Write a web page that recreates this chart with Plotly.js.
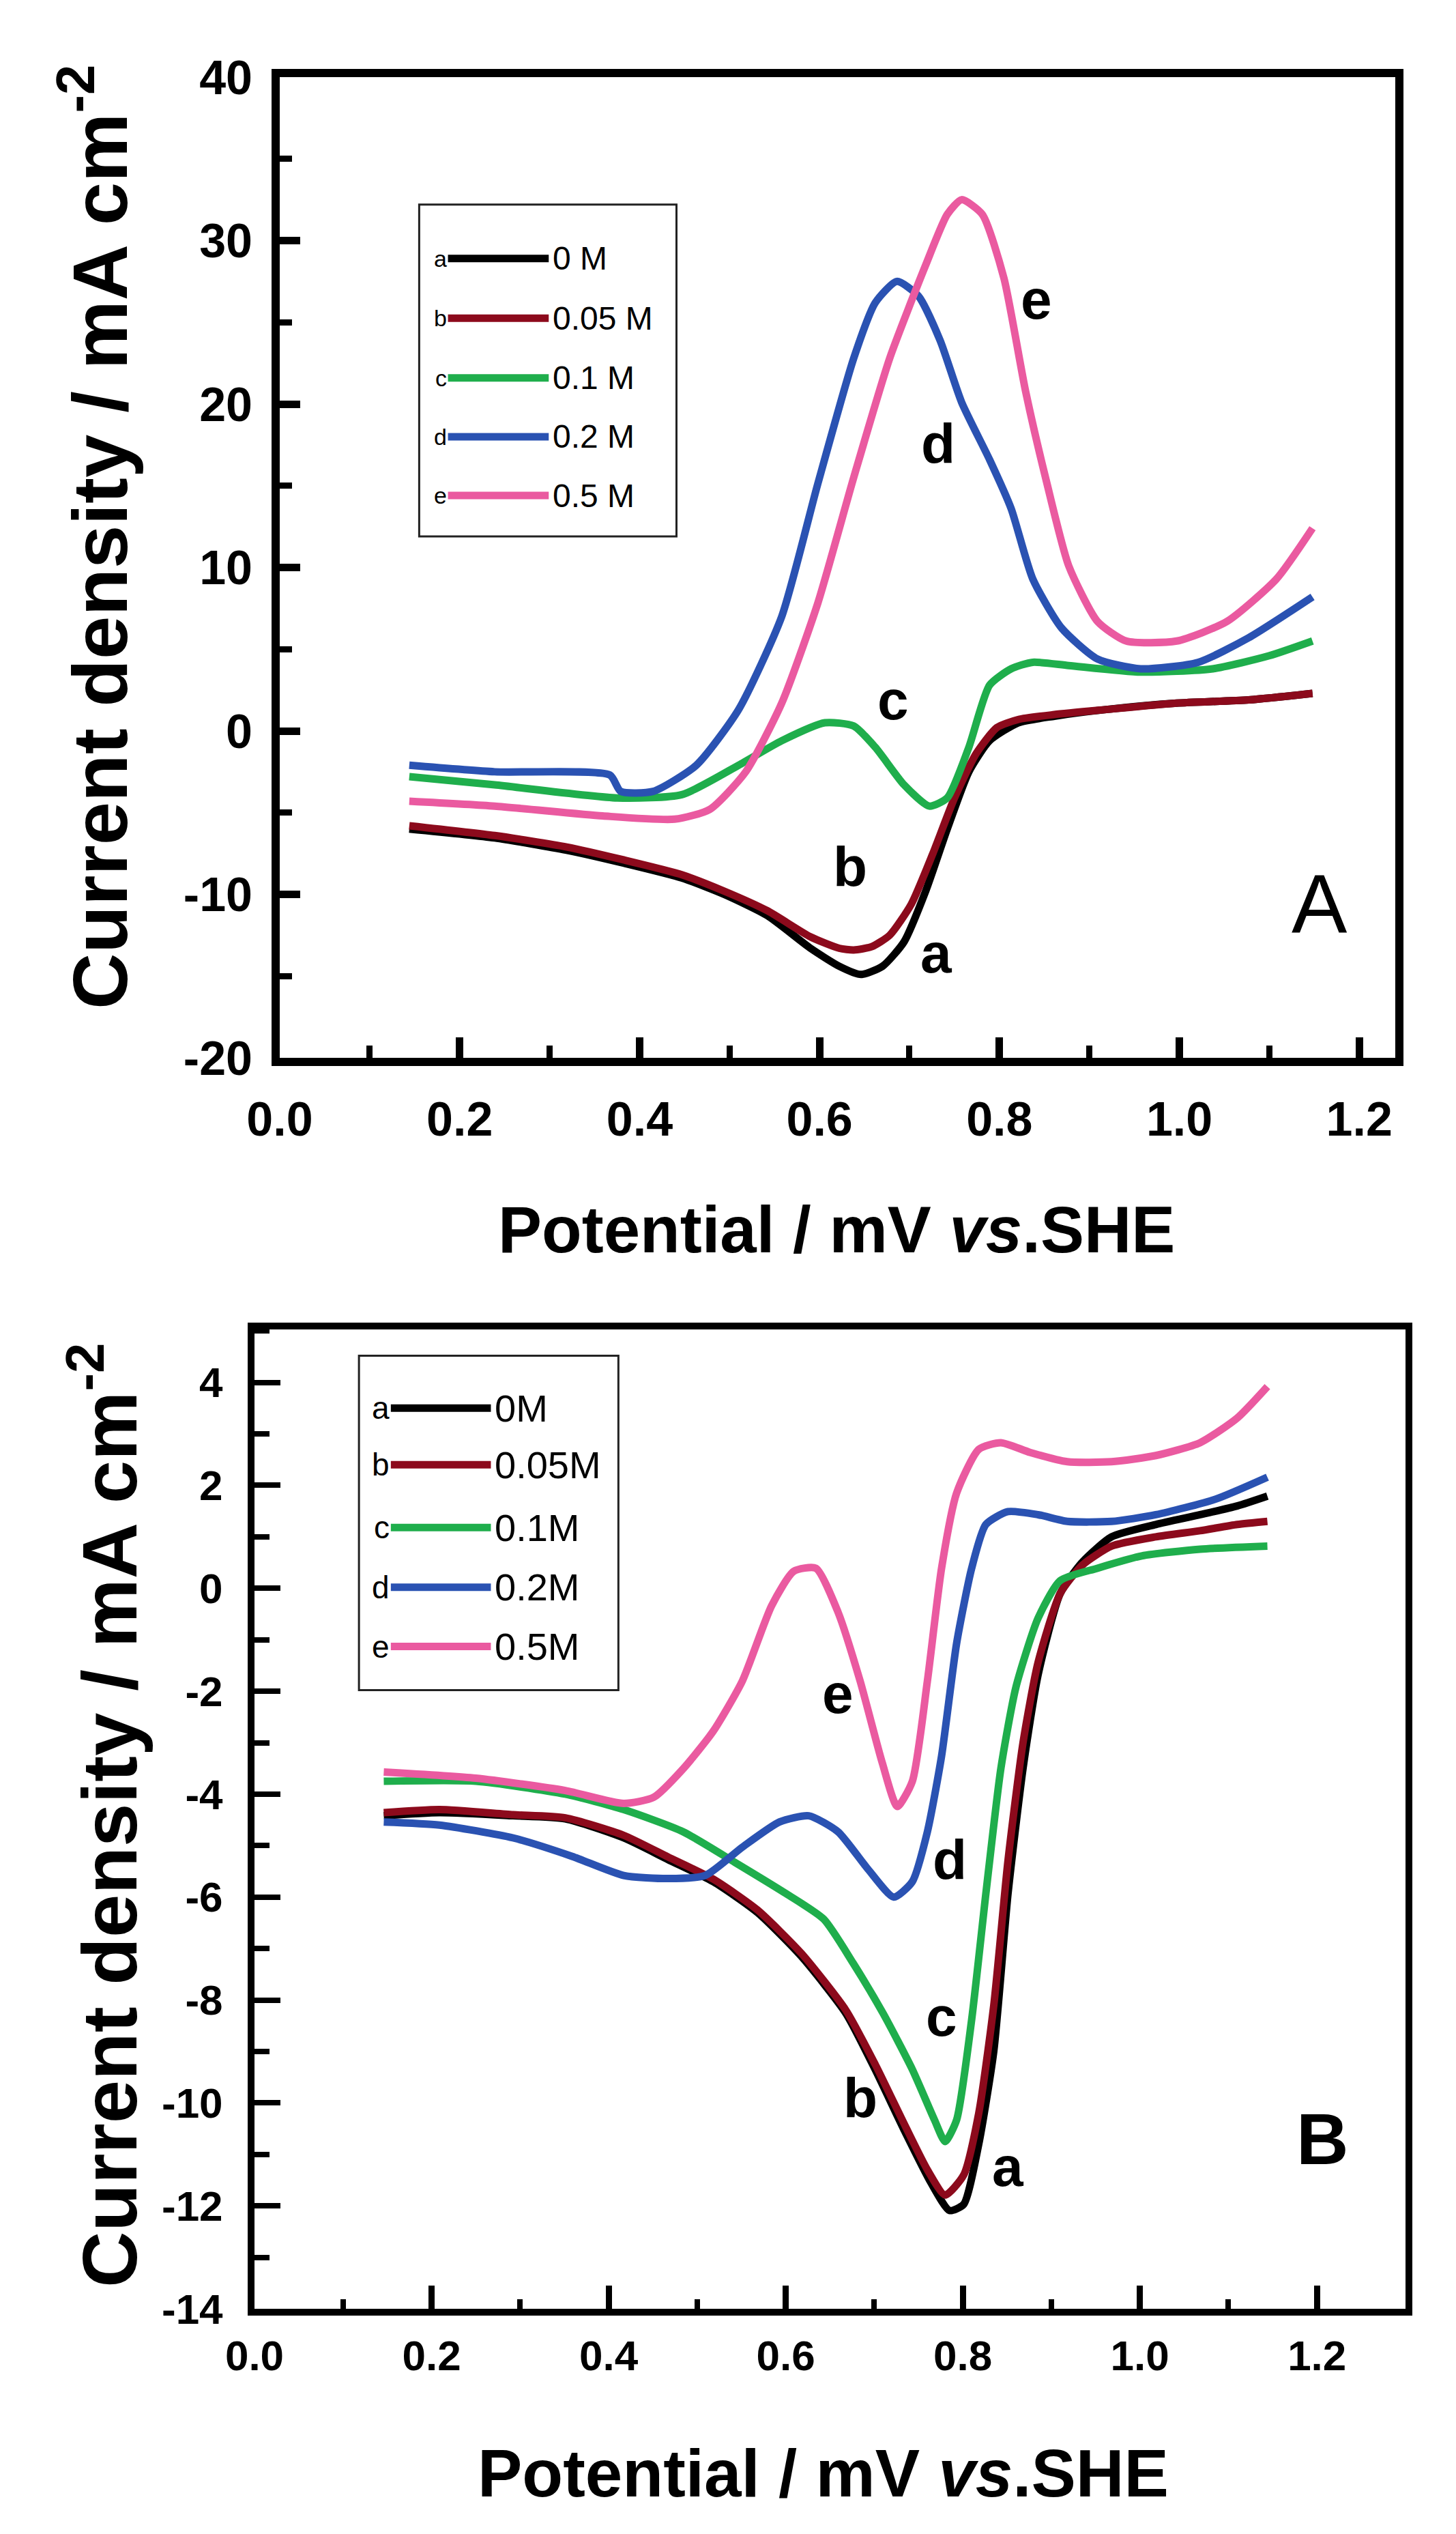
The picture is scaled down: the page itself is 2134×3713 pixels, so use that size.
<!DOCTYPE html>
<html>
<head>
<meta charset="utf-8">
<script src="https://cdn.plot.ly/plotly-3.0.1.min.js"></script>
<style>
  html, body { margin: 0; padding: 0; background: #ffffff; }
  #plot { width: 2134px; height: 3713px; }
</style>
</head>
<body>
<div id="plot"></div>
<script>
// curve letters and legend labels
const curveKeys = ['a', 'b', 'c', 'd', 'e'];
const legendTextA = ['0 M', '0.05 M', '0.1 M', '0.2 M', '0.5 M'];
const legendTextB = ['0M', '0.05M', '0.1M', '0.2M', '0.5M'];
const curveColors = ['#000000', '#8c0a1c', '#1fae4c', '#2a52b2', '#ea5aa0'];

// tick values / labels (hyphen minus, as printed)
const xTicks = [0, 0.2, 0.4, 0.6, 0.8, 1.0, 1.2];
const xTickText = ['0.0', '0.2', '0.4', '0.6', '0.8', '1.0', '1.2'];
const yTicksA = [-20, -10, 0, 10, 20, 30, 40];
const yTickTextA = ['-20', '-10', '0', '10', '20', '30', '40'];
const yTicksB = [-14, -12, -10, -8, -6, -4, -2, 0, 2, 4];
const yTickTextB = ['-14', '-12', '-10', '-8', '-6', '-4', '-2', '0', '2', '4'];

// Panel A
const A_a_x = [0.144, 0.239, 0.319, 0.383, 0.447, 0.494, 0.542, 0.59, 0.622, 0.646, 0.67, 0.694, 0.718, 0.742, 0.766, 0.789, 0.821, 0.861, 0.917, 0.997, 1.077, 1.148];
const A_a_y = [-6.0, -6.55, -7.3, -8.1, -9.0, -10.0, -11.3, -13.3, -14.4, -14.9, -14.4, -12.9, -9.8, -6.0, -2.5, -0.6, 0.5, 0.9, 1.3, 1.7, 1.9, 2.3];
const A_b_x = [0.144, 0.239, 0.319, 0.383, 0.447, 0.494, 0.542, 0.59, 0.622, 0.638, 0.658, 0.678, 0.702, 0.726, 0.75, 0.774, 0.797, 0.821, 0.861, 0.917, 0.997, 1.077, 1.148];
const A_b_y = [-5.8, -6.4, -7.1, -7.9, -8.8, -9.8, -11.0, -12.6, -13.3, -13.4, -13.2, -12.5, -10.6, -7.5, -4.1, -1.4, 0.2, 0.7, 1.0, 1.3, 1.7, 1.9, 2.3];
const A_c_x = [0.144, 0.239, 0.375, 0.447, 0.51, 0.558, 0.606, 0.638, 0.662, 0.694, 0.722, 0.742, 0.766, 0.789, 0.813, 0.837, 0.877, 0.957, 1.037, 1.1, 1.148];
const A_c_y = [-2.8, -3.3, -4.1, -3.9, -2.1, -0.6, 0.5, 0.3, -1.0, -3.3, -4.6, -4.1, -1.0, 2.8, 3.8, 4.2, 4.0, 3.6, 3.8, 4.6, 5.5];
const A_d_x = [0.144, 0.239, 0.367, 0.379, 0.415, 0.463, 0.51, 0.558, 0.598, 0.638, 0.662, 0.686, 0.71, 0.734, 0.758, 0.789, 0.813, 0.837, 0.869, 0.909, 0.957, 1.021, 1.077, 1.148];
const A_d_y = [-2.1, -2.5, -2.7, -3.7, -3.7, -2.1, 1.3, 7.0, 15.1, 22.8, 26.2, 27.5, 26.6, 23.9, 20.1, 16.6, 13.6, 9.3, 6.3, 4.4, 3.8, 4.2, 5.7, 8.2];
const A_e_x = [0.144, 0.239, 0.359, 0.439, 0.478, 0.518, 0.558, 0.598, 0.638, 0.678, 0.718, 0.742, 0.758, 0.781, 0.805, 0.829, 0.853, 0.877, 0.909, 0.941, 0.997, 1.053, 1.108, 1.148];
const A_e_y = [-4.3, -4.6, -5.2, -5.4, -4.8, -2.5, 1.7, 7.8, 15.5, 22.8, 28.5, 31.6, 32.5, 31.6, 27.7, 20.8, 15.1, 10.1, 6.7, 5.5, 5.5, 6.7, 9.3, 12.4];

// Panel B
const B_a_x = [0.146, 0.209, 0.292, 0.351, 0.417, 0.467, 0.518, 0.568, 0.618, 0.668, 0.701, 0.735, 0.764, 0.785, 0.801, 0.818, 0.835, 0.851, 0.868, 0.885, 0.91, 0.935, 0.968, 1.018, 1.068, 1.11, 1.144];
const B_a_y = [-4.42, -4.36, -4.42, -4.48, -4.85, -5.27, -5.7, -6.3, -7.16, -8.26, -9.35, -10.57, -11.55, -12.09, -11.97, -10.8, -8.99, -5.94, -3.5, -1.68, -0.1, 0.51, 1.0, 1.24, 1.43, 1.6, 1.79];
const B_b_x = [0.146, 0.209, 0.292, 0.351, 0.417, 0.467, 0.518, 0.568, 0.618, 0.668, 0.701, 0.735, 0.76, 0.78, 0.801, 0.818, 0.835, 0.851, 0.868, 0.885, 0.91, 0.935, 0.968, 1.018, 1.068, 1.11, 1.144];
const B_b_y = [-4.36, -4.3, -4.4, -4.46, -4.8, -5.22, -5.65, -6.25, -7.1, -8.2, -9.25, -10.45, -11.3, -11.79, -11.4, -10.2, -8.1, -5.3, -3.0, -1.44, -0.1, 0.45, 0.82, 1.0, 1.12, 1.24, 1.3];
const B_c_x = [0.146, 0.25, 0.351, 0.417, 0.484, 0.543, 0.601, 0.643, 0.676, 0.71, 0.743, 0.768, 0.78, 0.793, 0.81, 0.826, 0.843, 0.86, 0.885, 0.91, 0.952, 1.002, 1.068, 1.144];
const B_c_y = [-3.75, -3.75, -4.0, -4.3, -4.73, -5.33, -5.94, -6.43, -7.28, -8.26, -9.35, -10.33, -10.75, -10.33, -8.38, -5.94, -3.5, -1.92, -0.58, 0.15, 0.39, 0.63, 0.76, 0.82];
const B_d_x = [0.146, 0.209, 0.292, 0.359, 0.417, 0.467, 0.509, 0.551, 0.593, 0.626, 0.659, 0.693, 0.722, 0.743, 0.76, 0.776, 0.793, 0.81, 0.826, 0.851, 0.885, 0.918, 0.968, 1.018, 1.085, 1.144];
const B_d_y = [-4.54, -4.6, -4.85, -5.21, -5.58, -5.64, -5.58, -5.03, -4.54, -4.42, -4.73, -5.46, -6.0, -5.7, -4.73, -3.26, -1.07, 0.39, 1.24, 1.49, 1.43, 1.3, 1.3, 1.43, 1.73, 2.16];
const B_e_x = [0.146, 0.25, 0.351, 0.417, 0.451, 0.484, 0.518, 0.551, 0.584, 0.609, 0.634, 0.659, 0.684, 0.709, 0.726, 0.743, 0.76, 0.776, 0.793, 0.818, 0.843, 0.876, 0.918, 0.968, 1.018, 1.068, 1.11, 1.144];
const B_e_y = [-3.57, -3.69, -3.93, -4.18, -4.06, -3.51, -2.78, -1.8, -0.34, 0.33, 0.39, -0.46, -1.8, -3.39, -4.24, -3.75, -1.8, 0.39, 1.85, 2.7, 2.83, 2.64, 2.46, 2.46, 2.58, 2.83, 3.31, 3.92];

// where the letters sit next to the curves
const labelPosA_x = [0.73, 0.634, 0.682, 0.732, 0.841];
const labelPosA_y = [-13.6, -8.3, 1.9, 17.6, 26.4];
const labelPosB_x = [0.851, 0.684, 0.776, 0.785, 0.659];
const labelPosB_y = [-11.24, -9.9, -8.32, -5.27, -2.05];

const W = 2134, H = 3713;
const SANS = 'Liberation Sans, Arial, sans-serif';

const seriesA = [[A_a_x, A_a_y], [A_b_x, A_b_y], [A_c_x, A_c_y], [A_d_x, A_d_y], [A_e_x, A_e_y]];
const seriesB = [[B_a_x, B_a_y], [B_b_x, B_b_y], [B_c_x, B_c_y], [B_d_x, B_d_y], [B_e_x, B_e_y]];

function px(v) { return v / W; }
function py(v) { return 1 - v / H; }

function makeTraces(series, xa, ya) {
  return series.map((s, i) => ({
    x: s[0], y: s[1],
    xaxis: xa, yaxis: ya,
    mode: 'lines',
    line: { color: curveColors[i], width: 11, shape: 'spline', smoothing: 0.6 },
    hoverinfo: 'skip',
    showlegend: false,
  }));
}

function axisStyle(opts) {
  return Object.assign({
    showline: true, linecolor: '#000', mirror: true,
    showgrid: false, zeroline: false,
    ticks: 'inside', tickcolor: '#000', tickmode: 'array',
    fixedrange: true,
  }, opts);
}

// hand-made legend box: frame, swatches, letters and labels
function legendParts(xr, yr, box, rows, lineX, texts, textFont, letterFont) {
  const shapes = [{
    type: 'rect', xref: xr, yref: yr,
    x0: box[0], x1: box[1], y0: box[2], y1: box[3],
    line: { color: '#222', width: 3 }, fillcolor: 'rgba(0,0,0,0)', layer: 'above',
  }];
  const anns = [];
  rows.forEach((ry, i) => {
    shapes.push({
      type: 'line', xref: xr, yref: yr,
      x0: lineX[0], x1: lineX[1], y0: ry, y1: ry,
      line: { color: curveColors[i], width: 11 },
    });
    anns.push({
      xref: xr, yref: yr, x: lineX[0], y: ry, xanchor: 'right', yanchor: 'middle',
      text: curveKeys[i], showarrow: false, font: letterFont,
    });
    anns.push({
      xref: xr, yref: yr, x: lineX[1] + 0.003, y: ry, xanchor: 'left', yanchor: 'middle',
      text: texts[i], showarrow: false, font: textFont,
    });
  });
  return { shapes, anns };
}

const legA = legendParts('x', 'y', [0.155, 0.441, 11.9, 32.2], [28.9, 25.25, 21.6, 18.0, 14.4],
  [0.187, 0.299], legendTextA, { family: SANS, size: 48, color: '#000' }, { family: SANS, size: 34, color: '#000' });
const legB = legendParts('x2', 'y2', [0.118, 0.411, -1.98, 4.52], [3.5, 2.4, 1.18, 0.02, -1.13],
  [0.154, 0.267], legendTextB, { family: SANS, size: 56, color: '#000' }, { family: SANS, size: 46, color: '#000' });

const curveLabels = [];
curveKeys.forEach((k, i) => {
  curveLabels.push({ xref: 'x', yref: 'y', x: labelPosA_x[i], y: labelPosA_y[i], text: k, showarrow: false,
    font: { family: SANS, size: 82, weight: 'bold', color: '#000' } });
  curveLabels.push({ xref: 'x2', yref: 'y2', x: labelPosB_x[i], y: labelPosB_y[i], text: k, showarrow: false,
    font: { family: SANS, size: 82, weight: 'bold', color: '#000' } });
});

const titleFont = { family: SANS, size: 96, weight: 'bold', color: '#000' };
const yTitleFont = { family: SANS, size: 114, weight: 'bold', color: '#000' };
const titles = [
  { xref: 'paper', yref: 'paper', x: px(138), y: py(787), xanchor: 'center', yanchor: 'middle',
    textangle: -90, showarrow: false, text: 'Current density / mA cm<sup>-2</sup>', font: yTitleFont },
  { xref: 'paper', yref: 'paper', x: px(1226), y: py(1802), xanchor: 'center', yanchor: 'middle',
    showarrow: false, text: 'Potential / mV <i>vs</i>.SHE', font: titleFont },
  { xref: 'paper', yref: 'paper', x: px(152), y: py(2660), xanchor: 'center', yanchor: 'middle',
    textangle: -90, showarrow: false, text: 'Current density / mA cm<sup>-2</sup>', font: yTitleFont },
  { xref: 'paper', yref: 'paper', x: px(1206), y: py(3624), xanchor: 'center', yanchor: 'middle',
    showarrow: false, text: 'Potential / mV <i>vs</i>.SHE', font: Object.assign({}, titleFont, { size: 98 }) },
  { xref: 'x', yref: 'y', x: 1.156, y: -10.6, showarrow: false, text: 'A',
    font: { family: SANS, size: 122, color: '#000' } },
  { xref: 'x2', yref: 'y2', x: 1.206, y: -10.7, showarrow: false, text: 'B',
    font: { family: SANS, size: 106, weight: 'bold', color: '#000' } },
];

const tickFontA = { family: SANS, size: 70, weight: 'bold', color: '#000' };
const tickFontB = { family: SANS, size: 62, weight: 'bold', color: '#000' };

const layout = {
  width: W, height: H,
  margin: { l: 0, r: 0, t: 0, b: 0 },
  paper_bgcolor: '#ffffff', plot_bgcolor: '#ffffff',
  showlegend: false, hovermode: false,
  xaxis: axisStyle({
    domain: [px(410), px(2045)], anchor: 'y', range: [0, 1.24],
    tickvals: xTicks, ticktext: xTickText, ticklen: 30, tickwidth: 11, linewidth: 12,
    tickfont: tickFontA, ticklabelstandoff: 18,
    minor: { ticks: 'inside', tick0: 0, dtick: 0.1, ticklen: 18, tickwidth: 9, tickcolor: '#000', showgrid: false },
  }),
  yaxis: axisStyle({
    domain: [py(1550), py(113)], anchor: 'x', range: [-20, 40],
    tickvals: yTicksA, ticktext: yTickTextA, ticklen: 30, tickwidth: 11, linewidth: 12,
    tickfont: tickFontA, ticklabelstandoff: 14,
    minor: { ticks: 'inside', tick0: 0, dtick: 5, ticklen: 18, tickwidth: 9, tickcolor: '#000', showgrid: false },
  }),
  xaxis2: axisStyle({
    domain: [px(373), px(2060)], anchor: 'y2', range: [0, 1.3],
    tickvals: xTicks, ticktext: xTickText, ticklen: 34, tickwidth: 9, linewidth: 10,
    tickfont: tickFontB, ticklabelstandoff: 6,
    minor: { ticks: 'inside', tick0: 0, dtick: 0.1, ticklen: 14, tickwidth: 8, tickcolor: '#000', showgrid: false },
  }),
  yaxis2: axisStyle({
    domain: [py(3383), py(1948)], anchor: 'x2', range: [-14, 5.03],
    tickvals: yTicksB, ticktext: yTickTextB, ticklen: 38, tickwidth: 8, linewidth: 10,
    tickfont: tickFontB, ticklabelstandoff: 24,
    minor: { ticks: 'inside', tick0: 0, dtick: 1, ticklen: 22, tickwidth: 8, tickcolor: '#000', showgrid: false },
  }),
  shapes: legA.shapes.concat(legB.shapes),
  annotations: legA.anns.concat(legB.anns, curveLabels, titles),
};

const data = makeTraces(seriesA, 'x', 'y').concat(makeTraces(seriesB, 'x2', 'y2'));
Plotly.newPlot('plot', data, layout, { displayModeBar: false, staticPlot: true });
</script>
</body>
</html>
